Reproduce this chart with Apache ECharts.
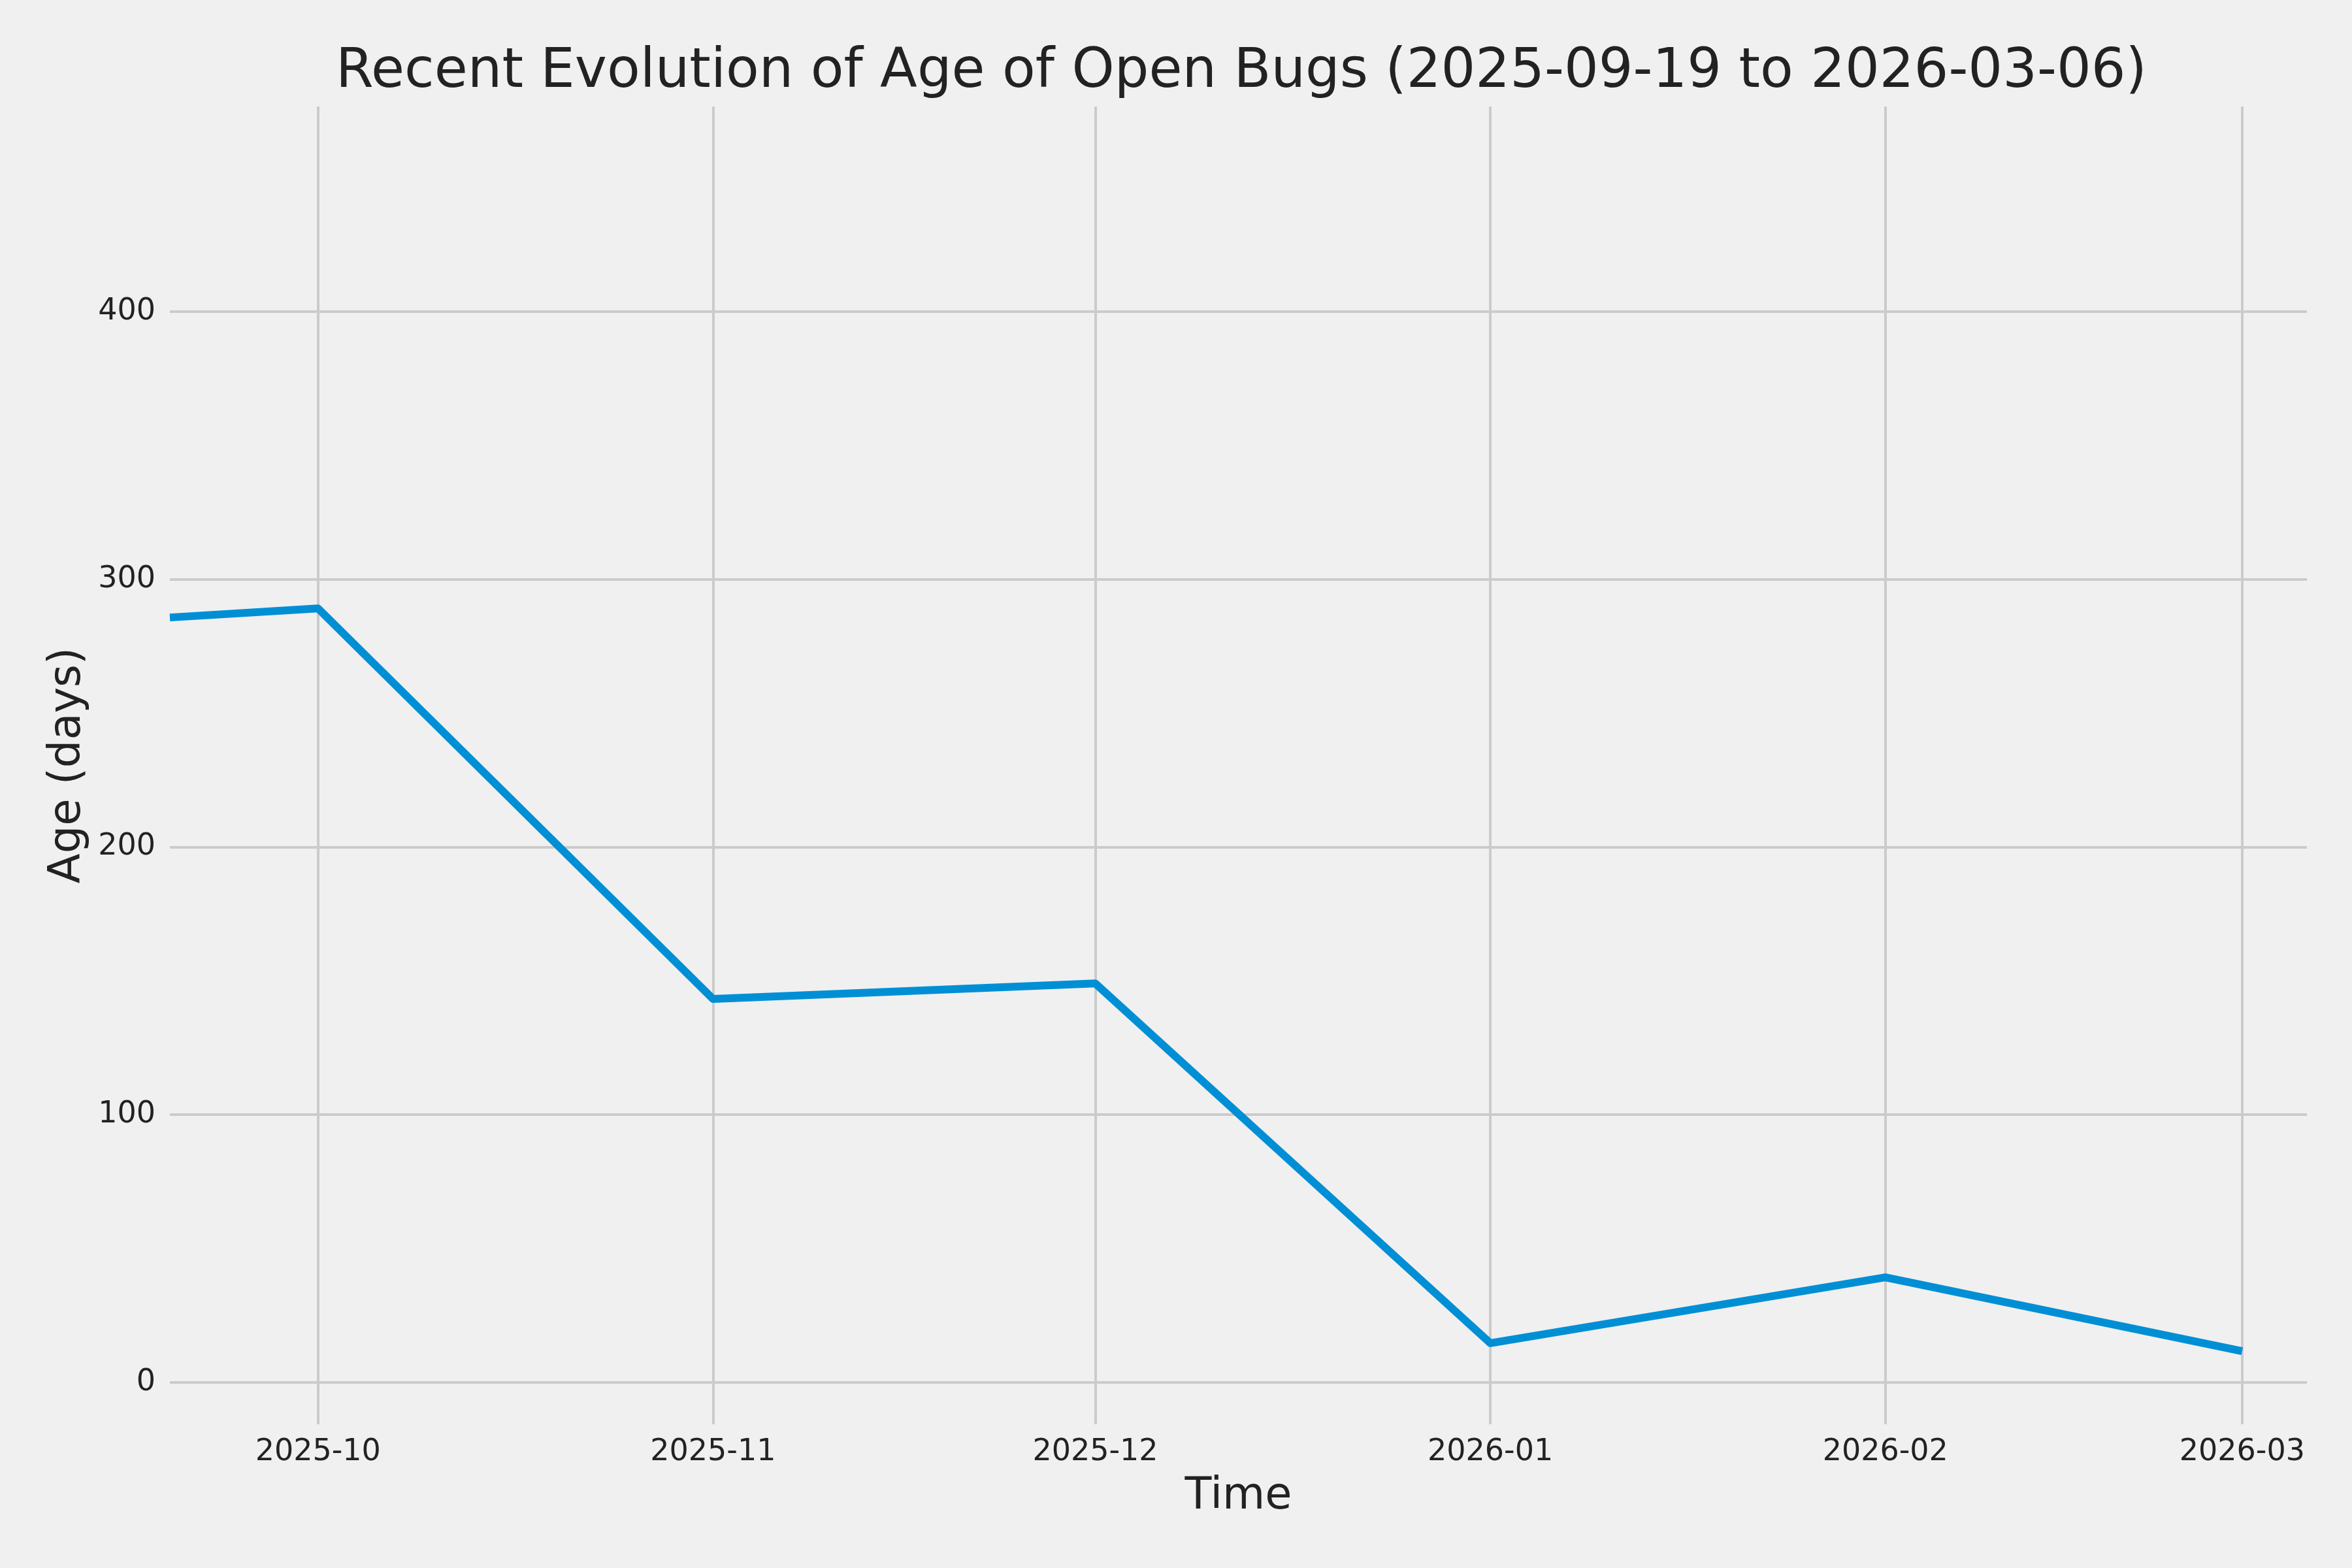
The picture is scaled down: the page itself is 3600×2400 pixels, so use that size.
<!DOCTYPE html>
<html>
<head>
<meta charset="utf-8">
<script src="https://cdn.jsdelivr.net/npm/echarts@6/dist/echarts.min.js"></script>
<style>
  html, body { margin: 0; padding: 0; background: #f0f0f0; }
  #chart { width: 3600px; height: 2400px; }
</style>
</head>
<body>
<div id="chart"></div>
<script>
// ---- data ----
const titleText = 'Recent Evolution of Age of Open Bugs (2025-09-19 to 2026-03-06)';
const xName = 'Time';
const yName = 'Age (days)';
const dates = ['2025-09-19T09:00:00', '2025-10-01T00:00:00', '2025-11-01T00:00:00', '2025-12-01T00:00:00',
               '2026-01-01T00:00:00', '2026-02-01T00:00:00', '2026-03-01T00:00:00'];
const ages = [285.7, 289.1, 143.2, 149.0, 14.6, 39.2, 11.6];
const xTickLabels = ['2025-10', '2025-11', '2025-12', '2026-01', '2026-02', '2026-03'];
const yTicks = [0, 100, 200, 300, 400];
const xRange = ['2025-09-19T09:00:00', '2026-03-06T02:00:00'];
const yRange = [-15.7, 476.6];

// ---- build ----
function toTs(s) {
  if (s.length === 7) s = s + '-01T00:00:00';
  return new Date(s).getTime();
}
const xTickTs = xTickLabels.map(toTs);
const seriesData = dates.map((d, i) => [toTs(d), ages[i]]);

const textColor = '#222222';
const gridColor = '#cbcbcb';
const fontFamily = 'DejaVu Sans';

const chart = echarts.init(document.getElementById('chart'), null, { renderer: 'canvas' });
chart.setOption({
  backgroundColor: '#f0f0f0',
  animation: false,
  textStyle: { fontFamily: fontFamily, color: textColor },
  title: {
    text: titleText,
    left: 1895,
    textAlign: 'center',
    top: 65,
    textStyle: { fontFamily: fontFamily, fontSize: 83, fontWeight: 'normal', color: textColor }
  },
  grid: { left: 260, right: 69, top: 163, bottom: 220, containLabel: false },
  xAxis: {
    type: 'value',
    min: toTs(xRange[0]),
    max: toTs(xRange[1]),
    name: xName,
    nameLocation: 'middle',
    nameGap: 78,
    nameTextStyle: { fontFamily: fontFamily, fontSize: 67, color: textColor },
    axisLine: { show: false },
    axisTick: { show: false, customValues: xTickTs },
    axisLabel: {
      customValues: xTickTs,
      margin: 20,
      fontSize: 46,
      fontFamily: fontFamily,
      color: textColor,
      formatter: function (v) {
        let best = 0;
        for (let i = 0; i < xTickTs.length; i++) {
          if (Math.abs(xTickTs[i] - v) < Math.abs(xTickTs[best] - v)) best = i;
        }
        return xTickLabels[best];
      }
    },
    splitLine: { show: true, lineStyle: { color: gridColor, width: 4 } }
  },
  yAxis: {
    type: 'value',
    min: yRange[0],
    max: yRange[1],
    name: yName,
    nameLocation: 'middle',
    nameGap: 122,
    nameTextStyle: { fontFamily: fontFamily, fontSize: 67, color: textColor },
    axisLine: { show: false },
    axisTick: { show: false, customValues: yTicks },
    axisLabel: {
      customValues: yTicks,
      margin: 22,
      fontSize: 46,
      fontFamily: fontFamily,
      color: textColor
    },
    splitLine: { show: true, lineStyle: { color: gridColor, width: 4 } }
  },
  series: [{
    type: 'line',
    data: seriesData,
    showSymbol: false,
    symbol: 'none',
    clip: true,
    lineStyle: { color: '#008fd5', width: 12, join: 'round', cap: 'butt' }
  }]
});
</script>
</body>
</html>
